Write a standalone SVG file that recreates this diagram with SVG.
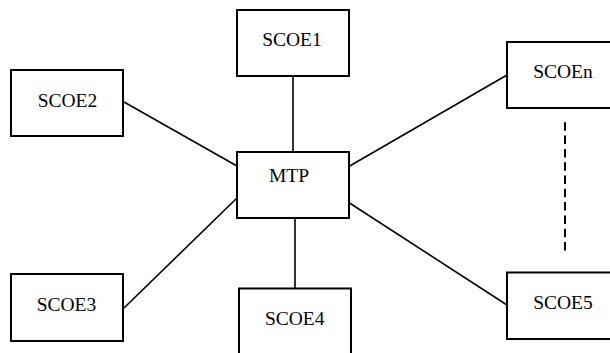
<svg xmlns="http://www.w3.org/2000/svg" width="610" height="353" viewBox="0 0 610 353">
<style>
.box{fill:#fff;stroke:#000;stroke-width:2}
.lbl{font-family:"Liberation Serif","Times New Roman",serif;font-size:19.5px;fill:#000;text-anchor:middle}
.ln{stroke:#000;stroke-width:1.6;fill:none}
.dash{stroke:#000;stroke-width:2;stroke-dasharray:8.5 4.8;fill:none}
</style>
<rect width="610" height="353" fill="#fff"/>
<g id="connectors">
<line class="ln" x1="293" y1="76" x2="293" y2="152"/>
<line class="ln" x1="124" y1="102" x2="237" y2="166"/>
<line class="ln" x1="124" y1="308" x2="237" y2="198"/>
<line class="ln" x1="295" y1="216" x2="295" y2="289"/>
<line class="ln" x1="348" y1="167" x2="507" y2="75"/>
<line class="ln" x1="348" y1="202" x2="507" y2="305"/>
<line class="dash" x1="565" y1="122.3" x2="565" y2="253"/>
</g>
<g id="SCOE1"><rect class="box" x="237" y="10" width="112" height="66"/><text class="lbl" x="292" y="46">SCOE1</text></g>
<g id="SCOE2"><rect class="box" x="11" y="70" width="112" height="66"/><text class="lbl" x="67.5" y="107">SCOE2</text></g>
<g id="MTP"><rect class="box" x="237" y="152" width="112" height="66"/><text class="lbl" x="289" y="182">MTP</text></g>
<g id="SCOEn"><rect class="box" x="507" y="42" width="112" height="66"/><text class="lbl" x="563" y="78">SCOEn</text></g>
<g id="SCOE3"><rect class="box" x="11" y="274" width="112" height="67"/><text class="lbl" x="66.5" y="311">SCOE3</text></g>
<g id="SCOE4"><rect class="box" x="239" y="288.5" width="112" height="70"/><text class="lbl" x="294.7" y="325">SCOE4</text></g>
<g id="SCOE5"><rect class="box" x="507" y="272.5" width="112" height="66.5"/><text class="lbl" x="563" y="309">SCOE5</text></g>
</svg>
